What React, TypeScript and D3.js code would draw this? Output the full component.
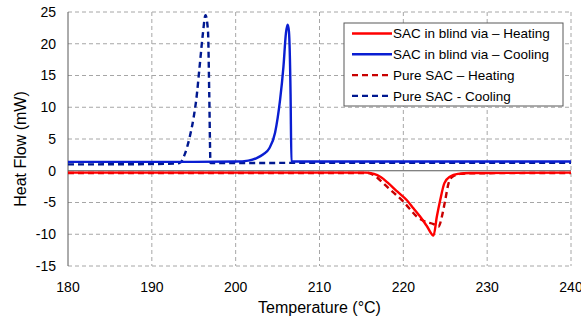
import React from "react";
import * as d3 from "d3";

const xTicks = [180, 190, 200, 210, 220, 230, 240];
const yTicks = [-15, -10, -5, 0, 5, 10, 15, 20, 25];

const seriesNames = [
  "SAC in blind via – Heating",
  "SAC in blind via – Cooling",
  "Pure SAC – Heating",
  "Pure SAC - Cooling",
];

const viaHeatX = [180, 215.5, 216.5, 217.3, 218.2, 219.3, 220.4, 221.2, 222.0, 222.8, 223.6, 224.0, 224.4, 224.9, 225.6, 226.5, 228, 240];
const viaHeatY = [-0.3, -0.3, -0.5, -1.0, -1.95, -3.3, -4.6, -5.9, -7.2, -8.7, -10.2, -7.2, -4.6, -1.95, -0.9, -0.5, -0.35, -0.3];

const viaCoolX = [180, 195, 200, 201.5, 202.5, 203.3, 204.0, 204.7, 205.3, 205.7, 206.0, 206.2, 206.35, 206.55, 206.65, 207, 220, 240];
const viaCoolY = [1.4, 1.4, 1.45, 1.6, 2.0, 2.6, 3.5, 6, 11.2, 16.4, 21.7, 23.0, 22, 12, 1.5, 1.45, 1.45, 1.45];

const pureHeatX = [180, 215.8, 216.6, 217.6, 218.7, 219.8, 220.7, 221.6, 222.6, 223.6, 224.2, 224.6, 225.0, 225.4, 225.9, 226.8, 228, 240];
const pureHeatY = [-0.35, -0.35, -0.8, -1.95, -3.3, -4.6, -5.9, -7.2, -8.0, -8.4, -8.8, -7.2, -4.6, -1.95, -0.9, -0.5, -0.4, -0.35];

const pureCoolX = [180, 190, 193.3, 193.9, 194.5, 195.0, 195.3, 195.7, 196.1, 196.4, 196.7, 196.85, 197.0, 197.2, 210, 240];
const pureCoolY = [1.0, 1.05, 1.2, 2.5, 5.2, 8.5, 11.2, 16.4, 21.7, 24.5, 22, 12, 1.2, 1.2, 1.25, 1.25];

const W = 581, H = 321;
const L = 68, R = 571, T = 12, B = 266;
const FONT = "'Liberation Sans', Arial, sans-serif";

export default function App() {
  const x = d3.scaleLinear().domain([180, 240]).range([L, R]);
  const y = d3.scaleLinear().domain([-15, 25]).range([B, T]);
  const line = d3.line<[number, number]>().x(d => x(d[0])).y(d => y(d[1])).curve(d3.curveMonotoneX);
  const mk = (xs: number[], ys: number[]) => line(xs.map((v, i) => [v, ys[i]] as [number, number])) || "";

  const series = [
    { name: seriesNames[0], d: mk(viaHeatX, viaHeatY), color: "#ff0000", dash: "" },
    { name: seriesNames[1], d: mk(viaCoolX, viaCoolY), color: "#0a1ed2", dash: "" },
    { name: seriesNames[2], d: mk(pureHeatX, pureHeatY), color: "#c80000", dash: "6,4" },
    { name: seriesNames[3], d: mk(pureCoolX, pureCoolY), color: "#001890", dash: "6,4" },
  ];
  const drawOrder = [3, 1, 2, 0];

  return (
    <svg width={W} height={H} style={{ position: "absolute", left: 0, top: 0, background: "#fff" }} fontFamily={FONT}>
      <rect x={0} y={0} width={W} height={H} fill="#fff" />
      {/* gridlines */}
      {xTicks.slice(1).map(t => (
        <line key={"gx" + t} x1={x(t)} x2={x(t)} y1={T} y2={B} stroke="#a6a6a6" strokeWidth={1} strokeDasharray="4,3" />
      ))}
      {yTicks.filter(t => t !== 0).map(t => (
        <line key={"gy" + t} x1={L} x2={R} y1={y(t)} y2={y(t)} stroke="#a6a6a6" strokeWidth={1} strokeDasharray="4,3" />
      ))}
      <line x1={L} x2={R} y1={y(0)} y2={y(0)} stroke="#595959" strokeWidth={1} />
      <line x1={L} x2={L} y1={T} y2={B} stroke="#595959" strokeWidth={1} />
      {/* series */}
      {drawOrder.map(i => (
        <path key={i} d={series[i].d} fill="none" stroke={series[i].color} strokeWidth={2.4}
          strokeDasharray={series[i].dash || undefined} strokeLinejoin="round" />
      ))}
      {/* tick labels */}
      {yTicks.map(t => (
        <text key={"ty" + t} x={56} y={y(t)} dy="0.35em" textAnchor="end" fontSize={14} fill="#000">{t}</text>
      ))}
      {xTicks.map(t => (
        <text key={"tx" + t} x={x(t)} y={292} textAnchor="middle" fontSize={14} fill="#000">{t}</text>
      ))}
      <text x={(L + R) / 2} y={313} textAnchor="middle" fontSize={16} fill="#000">Temperature (°C)</text>
      <text transform={`translate(26,149) rotate(-90)`} textAnchor="middle" fontSize={16} fill="#000">Heat Flow (mW)</text>
      {/* legend */}
      <g>
        <rect x={344} y={23} width={219} height={83} fill="#fff" stroke="#595959" strokeWidth={1} />
        {series.map((s, i) => (
          <g key={"lg" + i} transform={`translate(0,${33.5 + i * 20.8})`}>
            <line x1={352} x2={392} y1={0} y2={0} stroke={s.color} strokeWidth={2.4} strokeDasharray={s.dash || undefined} />
            <text x={393} y={0} dy="0.35em" fontSize={13.5} fill="#000">{s.name}</text>
          </g>
        ))}
      </g>
    </svg>
  );
}
